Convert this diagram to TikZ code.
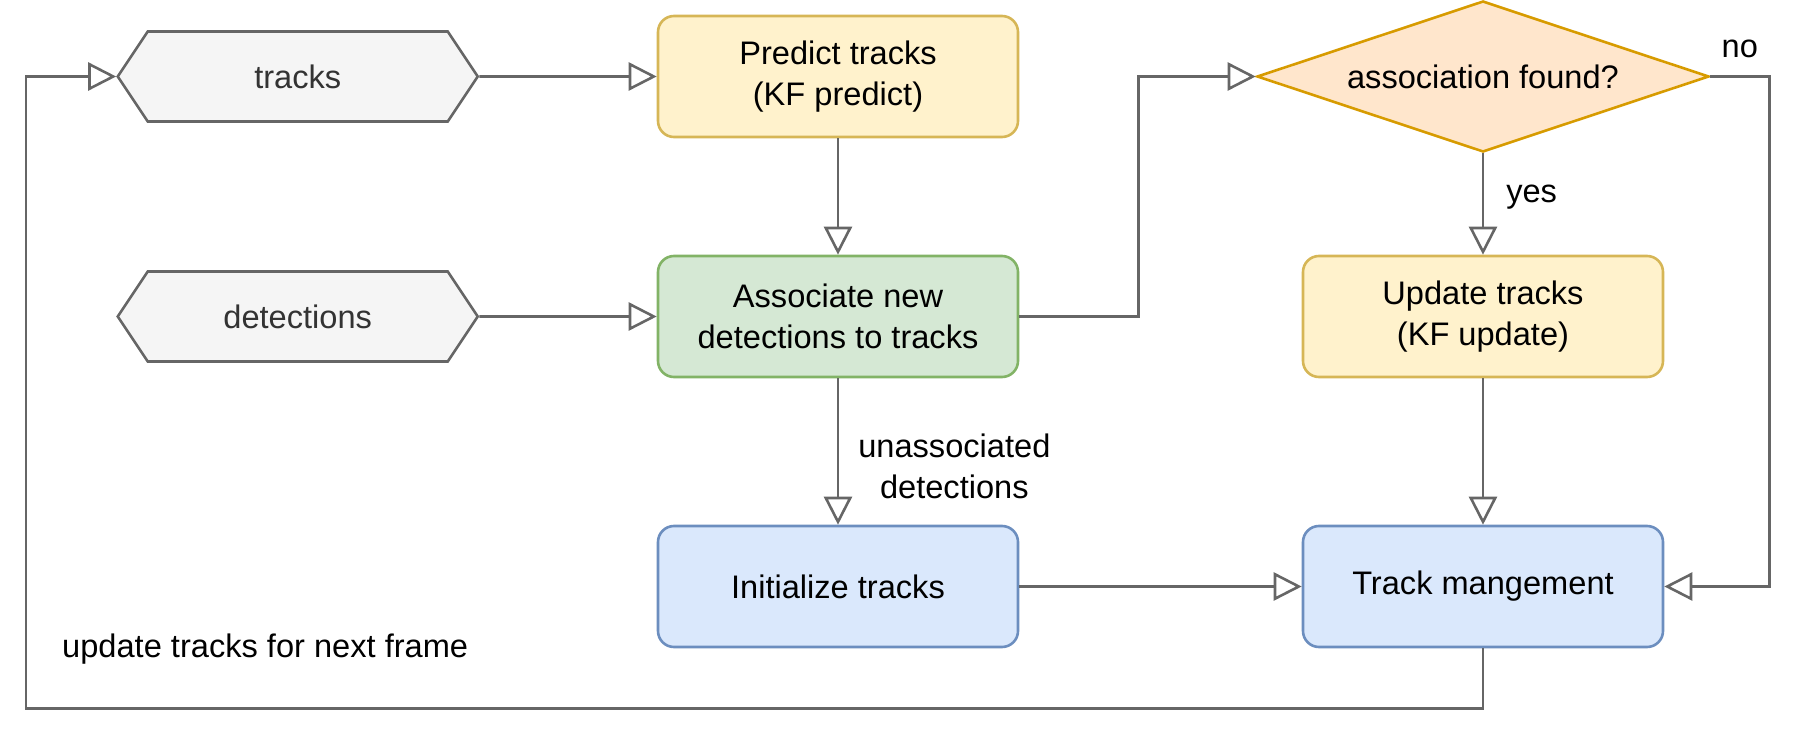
\documentclass[tikz,border=0pt]{standalone}
\usepackage{fontspec}
\setmainfont{Liberation Sans}
\usetikzlibrary{shapes.geometric, shapes.symbols, arrows.meta, positioning, calc}
\definecolor{yfill}{HTML}{FFF2CC}
\definecolor{ydraw}{HTML}{D6B656}
\definecolor{gfill}{HTML}{D5E8D4}
\definecolor{gdraw}{HTML}{82B366}
\definecolor{bfill}{HTML}{DAE8FC}
\definecolor{bdraw}{HTML}{6C8EBF}
\definecolor{ofill}{HTML}{FFE6CC}
\definecolor{odraw}{HTML}{D79B00}
\definecolor{hfill}{HTML}{F5F5F5}
\definecolor{edge}{HTML}{666666}
\definecolor{htext}{HTML}{333333}
\def \boxwidth {180pt}
\def \boxheight {60.5pt}
\tikzset{
  every node/.style = {font = \fontsize{16.3pt}{20.5pt}\selectfont},
  box/.style = {draw, rounded corners = 8pt, line width = 1.3pt, minimum width = \boxwidth, minimum height = \boxheight, align = center, inner sep = 0pt},
  hexbox/.style = {draw = edge, fill = hfill, text = htext, signal, signal to = west and east, signal pointer angle = 112.6, line width = 1.3pt, minimum width = \boxwidth, minimum height = 45pt, inner sep = 0pt},
  decision/.style = {draw = odraw, fill = ofill, diamond, shape aspect = 3, line width = 1.3pt, minimum width = 226pt, minimum height = 75.5pt, inner sep = 0pt},
  arr/.style = {draw = edge, line width = 1.3pt, -{Triangle[open, length = 14pt, width = 14pt]}},
  lbl/.style = {align = center, inner sep = 2pt}
}

\begin{document}
\begin{tikzpicture}
\useasboundingbox (0, 0) rectangle (900pt, -369pt);
\node (predict) [box, draw = ydraw, fill = yfill] at (419pt, -38.25pt) {Predict tracks\\(KF predict)};
\node (assoc) [box, draw = gdraw, fill = gfill, below = 58.2pt of predict] {Associate new\\detections to tracks};
\node (init) [box, draw = bdraw, fill = bfill, below = 73.2pt of assoc] {Initialize tracks};
\node (trks) [hexbox, left = 88.7pt of predict] {tracks};
\node (dets) [hexbox, left = 88.7pt of assoc] {detections};
\node (found) [decision, right = 118.2pt of predict] {association found?};
\node (update) [box, draw = ydraw, fill = yfill] at (assoc -| found) {Update tracks\\(KF update)};
\node (trmgmt) [box, draw = bdraw, fill = bfill] at (init -| found) {Track mangement};

\draw[arr] (trks) -- (predict);
\draw[arr] (dets) -- (assoc);
\draw[arr] (predict) -- (assoc);
\draw[arr] (assoc) -- node (unassoc) [lbl, right = 7.5pt, pos = 0.6] {unassociated\\detections} (init);
\draw[arr] (assoc.east) -- ++(59.5pt, 0) |- (found.west);
\draw[arr] (found) -- node (yes) [lbl, right = 9pt, pos = 0.43] {yes} (update);
\draw[arr] (found.east) -- node (no) [lbl, above = 6.5pt] {no} ++(29.5pt, 0) |- (trmgmt.east);
\draw[arr] (update) -- (trmgmt);
\draw[arr] (init) -- (trmgmt);

\coordinate (corner) at ($(trks.west |- trmgmt.south) + (-45pt, -30pt)$);
\draw[arr] (trmgmt.south) |- (corner) |- (trks.west);
\node (nextframe) [right = 14.5pt of corner, yshift = 29.5pt] {update tracks for next frame};
\end{tikzpicture}
\end{document}
